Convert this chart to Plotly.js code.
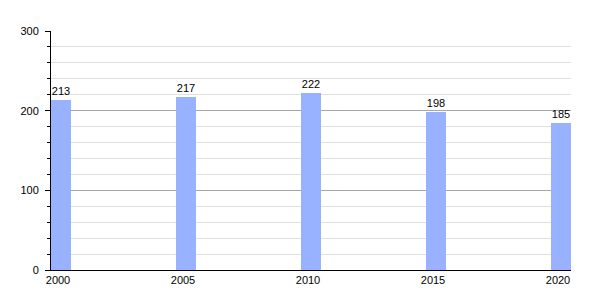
<!DOCTYPE html>
<html>
<head>
<meta charset="utf-8">
<script src="https://cdn.plot.ly/plotly-3.0.1.min.js"></script>
<style>html,body{margin:0;padding:0;background:#fff;}#chart{width:600px;height:300px;}</style>
</head>
<body>
<div id="chart"></div>
<script>
const years = [2000, 2005, 2010, 2015, 2020];
const values = [213, 217, 222, 198, 185];
const yTicks = [0, 100, 200, 300];

const trace = {
  type: 'bar',
  x: years,
  y: values,
  width: 0.8,
  marker: {color: '#99b2ff', line: {width: 0}},
  text: values.map(String),
  textposition: 'outside',
  textfont: {family: 'Liberation Sans, Arial, sans-serif', size: 11, color: '#000'},
  cliponaxis: false,
  hoverinfo: 'skip'
};

const layout = {
  width: 600, height: 300,
  margin: {l: 51, r: 29, t: 31, b: 30},
  paper_bgcolor: '#fff', plot_bgcolor: '#fff',
  showlegend: false,
  font: {family: 'Liberation Sans, Arial, sans-serif', size: 11, color: '#000'},
  xaxis: {
    range: [1999.6, 2020.4],
    tickvals: years,
    ticktext: years.map(String),
    tickfont: {color: '#000'},
    ticklabelshift: -3,
    showgrid: false,
    zeroline: false,
    showline: true, linecolor: '#000', linewidth: 1,
    ticks: '',
    fixedrange: true
  },
  yaxis: {
    range: [0, 300],
    tickvals: yTicks,
    tickfont: {color: '#000'},
    ticklabelstandoff: 4,
    showgrid: true, gridcolor: '#a6a6a6', gridwidth: 1,
    zeroline: false,
    showline: true, linecolor: '#000', linewidth: 1,
    ticks: 'outside', ticklen: 5, tickcolor: '#000',
    minor: {dtick: 20, tick0: 0, showgrid: true, gridcolor: '#e0e0e0', ticks: 'outside', ticklen: 3, tickcolor: '#000'},
    fixedrange: true
  },
  bargap: 0
};

Plotly.newPlot('chart', [trace], layout, {displayModeBar: false, staticPlot: true});
</script>
</body>
</html>
